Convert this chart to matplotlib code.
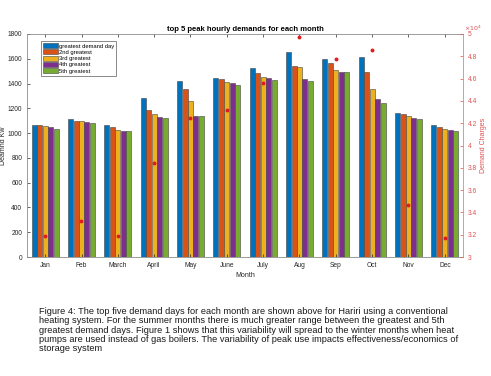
import matplotlib
matplotlib.use("Agg")
import matplotlib.pyplot as plt
import numpy as np

plt.rcParams['font.family'] = ['Liberation Sans', 'DejaVu Sans']

months = ["Jan", "Feb", "March", "April", "May", "June", "July", "Aug", "Sep", "Oct", "Nov", "Dec"]
series_names = ["greatest demand day", "2nd greatest", "3rd greatest", "4th greatest", "5th greatest"]
greatest = [1067, 1110, 1064, 1282, 1419, 1443, 1523, 1658, 1596, 1617, 1161, 1062]
second = [1062, 1094, 1048, 1185, 1354, 1435, 1488, 1545, 1569, 1491, 1156, 1046]
third = [1059, 1094, 1024, 1158, 1260, 1416, 1454, 1532, 1507, 1357, 1142, 1035]
fourth = [1046, 1089, 1019, 1134, 1142, 1405, 1446, 1440, 1496, 1279, 1121, 1024]
fifth = [1030, 1078, 1016, 1121, 1140, 1392, 1427, 1421, 1491, 1242, 1115, 1016]
charges = [31900, 33200, 31860, 38400, 42500, 43200, 45600, 49700, 47800, 48550, 34700, 31700]

colors = ["#0072BD", "#D95319", "#EDB120", "#7E2F8E", "#77AC30"]
caption = ("Figure 4: The top five demand days for each month are shown above for Hariri using a conventional\n"
           "heating system. For the summer months there is much greater range between the greatest and 5th\n"
           "greatest demand days. Figure 1 shows that this variability will spread to the winter months when heat\n"
           "pumps are used instead of gas boilers. The variability of peak use impacts effectiveness/economics of\n"
           "storage system")

fig = plt.figure(figsize=(4.91, 3.76), dpi=100)
ax = fig.add_axes([27/491, 1-257/376, 436/491, 223/376])
x = np.arange(1, 13)
allser = [greatest, second, third, fourth, fifth]
w = 0.15
for i, (vals, c, n) in enumerate(zip(allser, colors, series_names)):
    ax.bar(x + (i - 2) * w, vals, width=w * 0.92, color=c, edgecolor="#444444", linewidth=0.4, label=n)
ax.set_xlim(0.5, 12.5)
ax.set_ylim(0, 1800)
ax.set_yticks(range(0, 1801, 200))
ax.set_xticks(x)
ax.set_xticklabels(months)
ax.tick_params(axis='both', labelsize=4.8, direction='in', length=2, width=0.5, colors='#262626', top=True)
for s in ['left', 'bottom', 'top']:
    ax.spines[s].set_color('#8c8c8c')
    ax.spines[s].set_linewidth(0.6)
ax.spines['right'].set_visible(False)
ax.set_xlabel("Month", fontsize=5, color='#262626', labelpad=2)
ax.set_ylabel("Deamnd Kw", fontsize=5, color='#262626')
ax.yaxis.set_label_coords(-0.045, 0.5)
ax.set_title("top 5 peak hourly demands for each month", fontsize=5.5, fontweight='bold', pad=2)
leg = ax.legend(loc='upper left', fontsize=4.2, frameon=True, fancybox=False, edgecolor='#333333',
                borderpad=0.3, labelspacing=0.15, handlelength=2.6, handleheight=0.9, handletextpad=0.2,
                bbox_to_anchor=(0.025, 0.98))
leg.get_frame().set_linewidth(0.5)

ax2 = ax.twinx()
ax2.plot(x, charges, linestyle='none', marker='o', markersize=1.8, color='#e41a1c')
ax2.set_ylim(30000, 50000)
ax2.set_yticks(np.arange(30000, 50001, 2000))
ax2.set_yticklabels([f"{v/1e4:g}" for v in np.arange(30000, 50001, 2000)])
ax2.tick_params(axis='y', labelsize=4.8, direction='in', length=2, width=0.5, colors='#e05050')
for s in ['left', 'bottom', 'top']:
    ax2.spines[s].set_visible(False)
ax2.spines['right'].set_color('#e88080')
ax2.spines['right'].set_linewidth(0.6)
ax2.set_ylabel("Demand Charges", fontsize=5, color='#e05050', labelpad=2)
ax2.text(1.002, 1.005, r"$\times10^4$", transform=ax2.transAxes, fontsize=4.5, color='#e05050',
         ha='left', va='bottom')

fig.text(39/491, 1-307/376, caption, fontsize=6.7, ha='left', va='top', linespacing=1.05, color='#1a1a1a')
fig.savefig("out.png", dpi=100)
